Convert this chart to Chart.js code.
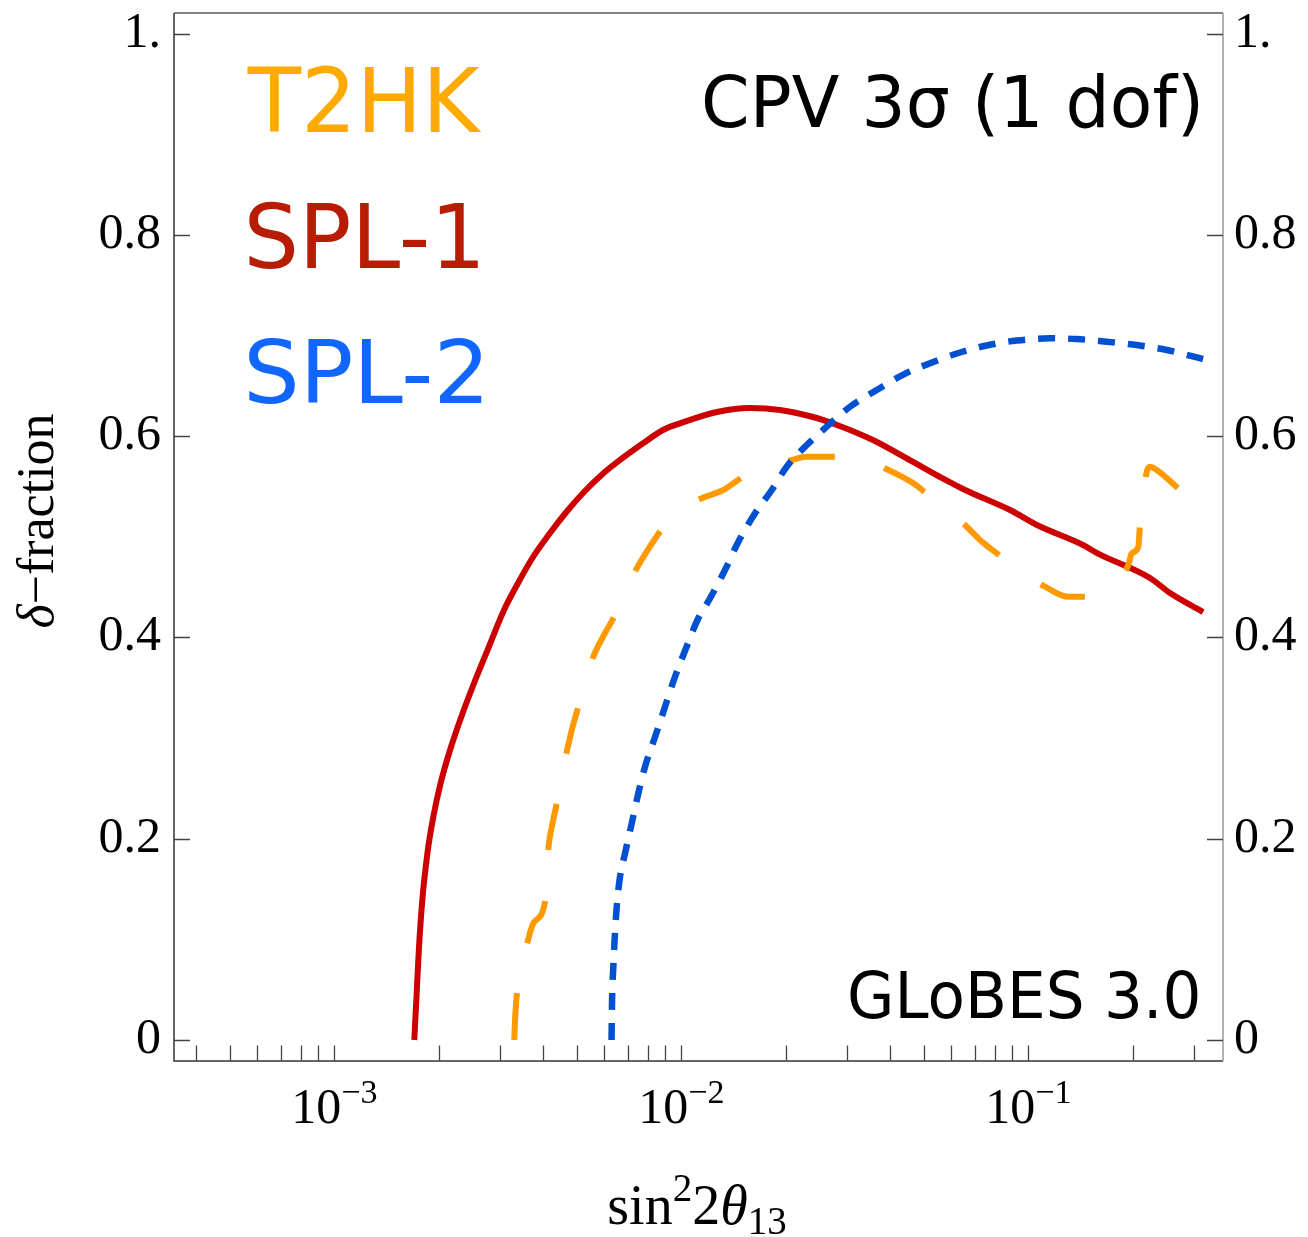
<!DOCTYPE html>
<html>
<head>
<meta charset="utf-8">
<script src="https://cdn.jsdelivr.net/npm/chart.js@4.4.1/dist/chart.umd.min.js"></script>
<style>
html,body{margin:0;padding:0;background:#fff;}
canvas{display:block;}
</style>
</head>
<body>
<canvas id="c" width="1308" height="1237" style="width:1308px;height:1237px"></canvas>
<script>
// ---- data (sin^2 2theta13 , delta-fraction) ----
const spl1X = [1.700e-3, 1.723e-3, 1.752e-3, 1.793e-3, 1.860e-3, 1.929e-3, 2.024e-3, 2.155e-3, 2.323e-3, 2.527e-3,
  2.764e-3, 3.083e-3, 3.361e-3, 3.738e-3, 4.142e-3, 4.638e-3, 5.208e-3, 5.888e-3, 6.657e-3, 7.756e-3,
  8.857e-3, 9.915e-3, 1.267e-2, 1.578e-2, 1.925e-2, 2.396e-2, 2.810e-2, 3.567e-2, 4.653e-2, 5.566e-2,
  6.571e-2, 8.858e-2, 0.1059, 0.1438, 0.1578, 0.2242, 0.2561, 0.3188];
const spl1Y = [0, 0.0397, 0.0894, 0.1391, 0.1888, 0.2219, 0.2551, 0.2882, 0.3213, 0.3545,
  0.3875, 0.4273, 0.4522, 0.4800, 0.5018, 0.5237, 0.5436, 0.5615, 0.5764, 0.5930,
  0.6062, 0.6128, 0.6241, 0.6280, 0.6261, 0.6191, 0.6112, 0.5962, 0.5744, 0.5595,
  0.5466, 0.5267, 0.5118, 0.4919, 0.4839, 0.4591, 0.4442, 0.4253];

const t2hkX = [3.30e-3, 3.317e-3, 3.355e-3, 3.451e-3, 3.585e-3, 3.745e-3, 4.048e-3, 4.102e-3, 4.137e-3, 4.240e-3,
  4.375e-3, 4.502e-3, 4.675e-3, 4.842e-3, 5.049e-3, 5.313e-3, 5.577e-3, 5.988e-3, 6.443e-3, 6.929e-3,
  7.439e-3, 8.071e-3, 8.781e-3, 9.915e-3, 1.145e-2, 1.321e-2, 1.509e-2, 1.778e-2, 2.081e-2, 2.298e-2,
  2.834e-2, 3.338e-2, 3.950e-2, 4.663e-2, 5.150e-2, 5.870e-2, 6.646e-2, 7.259e-2, 8.472e-2, 9.784e-2,
  0.1117, 0.1304, 0.1523, 0.1743, 0.1942, 0.1986, 0.2075, 0.2099, 0.2141, 0.2194,
  0.2242, 0.2344, 0.2736];
const t2hkY = [0, 0.0199, 0.0447, 0.0715, 0.0944, 0.1160, 0.1374, 0.1640, 0.1888, 0.2127,
  0.2352, 0.2604, 0.2865, 0.3091, 0.3312, 0.3577, 0.3809, 0.4025, 0.4223, 0.4472,
  0.4687, 0.4889, 0.5075, 0.5267, 0.5383, 0.5466, 0.5598, 0.5694, 0.5764, 0.5797,
  0.5797, 0.5764, 0.5664, 0.5532, 0.5416, 0.5267, 0.5101, 0.4969, 0.4787, 0.4621,
  0.4505, 0.4405, 0.4405, 0.4522, 0.4720, 0.4837, 0.4902, 0.5135, 0.5416, 0.5647,
  0.5697, 0.5664, 0.5466];

const spl2X = [6.293e-3, 6.315e-3, 6.368e-3, 6.433e-3, 6.514e-3, 6.657e-3, 6.883e-3, 7.195e-3, 7.517e-3, 7.860e-3,
  8.402e-3, 8.974e-3, 9.590e-3, 1.032e-2, 1.119e-2, 1.210e-2, 1.336e-2, 1.460e-2, 1.631e-2, 1.822e-2,
  2.012e-2, 2.298e-2, 2.624e-2, 3.063e-2, 3.656e-2, 4.363e-2, 5.324e-2, 6.357e-2, 7.587e-2, 9.261e-2,
  0.1155, 0.1379, 0.1683, 0.2053, 0.2505, 0.3188];
const spl2Y = [0, 0.0397, 0.0728, 0.1043, 0.1325, 0.1623, 0.1855, 0.2153, 0.2452, 0.2716,
  0.3014, 0.3312, 0.3610, 0.3895, 0.4191, 0.4390, 0.4671, 0.4952, 0.5234, 0.5466,
  0.5697, 0.5913, 0.6095, 0.6293, 0.6459, 0.6613, 0.6738, 0.6832, 0.6902, 0.6951,
  0.6973, 0.6966, 0.6939, 0.6906, 0.6857, 0.6767];

// ---- axes ----
const xRange = [3.451e-4, 0.3639];
const yRange = [-0.02087, 1.0206];
const xTickValues = [4e-4, 5e-4, 6e-4, 7e-4, 8e-4, 9e-4, 1e-3, 2e-3, 3e-3, 4e-3, 5e-3, 6e-3, 7e-3, 8e-3, 9e-3,
  1e-2, 2e-2, 3e-2, 4e-2, 5e-2, 6e-2, 7e-2, 8e-2, 9e-2, 1e-1, 2e-1, 3e-1];
const xLabelValues = [1e-3, 1e-2, 1e-1];
const xLabelExps = ['\u22123', '\u22122', '\u22121'];
const yTickValues = [0, 0.2, 0.4, 0.6, 0.8, 1.0];
const yTickLabels = ['0', '0.2', '0.4', '0.6', '0.8', '1.'];

const legendNames = ['T2HK', 'SPL-1', 'SPL-2'];

const pts = (xs, ys) => xs.map((v, i) => ({x: v, y: ys[i]}));

const SERIF = '"Liberation Serif", "Times New Roman", serif';
const SANS = '"DejaVu Sans", sans-serif';

function drawFit(ctx, text, family, color, left, right, capTop, baseline) {
  ctx.save();
  ctx.font = '100px ' + family;
  const ratio = ctx.measureText('H').actualBoundingBoxAscent / 100;
  const fs = (baseline - capTop) / ratio;
  ctx.font = fs + 'px ' + family;
  const m = ctx.measureText(text);
  const ink = m.actualBoundingBoxLeft + m.actualBoundingBoxRight;
  const sx = (right - left) / ink;
  ctx.translate(left, baseline);
  ctx.scale(sx, 1);
  ctx.textAlign = 'left';
  ctx.textBaseline = 'alphabetic';
  ctx.fillStyle = color;
  ctx.fillText(text, m.actualBoundingBoxLeft, 0);
  ctx.restore();
}

function drawRuns(ctx, runs, cx, baseline) {
  let total = 0;
  runs.forEach(r => { ctx.font = r[1]; r.w = ctx.measureText(r[0]).width; total += r.w; });
  let xx = cx - total / 2;
  ctx.textAlign = 'left';
  ctx.textBaseline = 'alphabetic';
  runs.forEach(r => { ctx.font = r[1]; ctx.fillText(r[0], xx, baseline + r[2]); xx += r.w; });
}

const fixRange = (lo, hi) => (s) => { s.min = lo; s.max = hi; };

const decor = {
  id: 'decor',
  afterDatasetsDraw(chart) {
    const {ctx, chartArea: a, scales: {x, y}} = chart;
    ctx.save();
    // frame
    ctx.lineWidth = 1.5;
    ctx.strokeStyle = '#333';
    ctx.beginPath(); ctx.moveTo(a.left, a.top); ctx.lineTo(a.left, a.bottom); ctx.lineTo(a.right, a.bottom); ctx.stroke();
    ctx.strokeStyle = '#555';
    ctx.beginPath(); ctx.moveTo(a.left, a.top); ctx.lineTo(a.right, a.top); ctx.stroke();
    ctx.strokeStyle = '#999';
    ctx.beginPath(); ctx.moveTo(a.right, a.top); ctx.lineTo(a.right, a.bottom); ctx.stroke();

    // ticks
    ctx.strokeStyle = '#444';
    ctx.lineWidth = 1.3;
    ctx.beginPath();
    xTickValues.forEach(v => {
      const px = Math.round(x.getPixelForValue(v)) + 0.5;
      ctx.moveTo(px, a.bottom); ctx.lineTo(px, a.bottom - 15.5);
    });
    yTickValues.forEach(v => {
      const py = Math.round(y.getPixelForValue(v)) + 0.5;
      ctx.moveTo(a.left, py); ctx.lineTo(a.left + 16, py);
      ctx.moveTo(a.right - 16, py); ctx.lineTo(a.right, py);
    });
    ctx.stroke();

    // y tick labels
    ctx.fillStyle = '#000';
    ctx.font = '50px ' + SERIF;
    ctx.textBaseline = 'alphabetic';
    yTickValues.forEach((v, i) => {
      const py = y.getPixelForValue(v) + 13;
      ctx.textAlign = 'right';
      ctx.fillText(yTickLabels[i], a.left - 13, py);
      ctx.textAlign = 'left';
      ctx.fillText(yTickLabels[i], a.right + 11, py);
    });

    // x tick labels 10^k
    xLabelValues.forEach((v, i) => {
      const px = x.getPixelForValue(v);
      drawRuns(ctx, [['10', '50px ' + SERIF, 0], [xLabelExps[i], '34px ' + SERIF, -20]], px, 1123);
    });

    // x title
    drawRuns(ctx, [
      ['sin', '56px ' + SERIF, 0],
      ['2', '39px ' + SERIF, -23],
      ['2', '56px ' + SERIF, 0],
      ['\u03B8', 'italic 56px ' + SERIF, 0],
      ['13', '39px ' + SERIF, 10]
    ], 697, 1224);

    // y title
    ctx.save();
    ctx.translate(53, 521);
    ctx.rotate(-Math.PI / 2);
    drawRuns(ctx, [
      ['\u03B4', 'italic 52px ' + SERIF, 0],
      ['\u2212fraction', '52px ' + SERIF, 0]
    ], 0, 0);
    ctx.restore();

    // legend texts
    drawFit(ctx, legendNames[0], SANS, '#FFAA00', 246.7, 482, 66.7, 131.7);
    drawFit(ctx, legendNames[1], SANS, '#B81C05', 248.3, 478.3, 203.3, 268.3);
    drawFit(ctx, legendNames[2], SANS, '#1166FF', 248.3, 481.7, 340, 403.3);

    // annotations
    drawFit(ctx, 'CPV 3\u03C3 (1 dof)', SANS, '#000', 705, 1198.3, 75, 127.3);
    drawFit(ctx, 'GLoBES 3.0', SANS, '#000', 850, 1198, 971, 1017.5);

    ctx.restore();
  }
};

const common = {pointRadius: 0, pointHoverRadius: 0, fill: false, cubicInterpolationMode: 'monotone', borderJoinStyle: 'round'};

new Chart(document.getElementById('c'), {
  type: 'line',
  data: {
    datasets: [
      Object.assign({label: legendNames[2], data: pts(spl2X, spl2Y), borderColor: '#0050D2', borderWidth: 6.5, borderDash: [17, 13]}, common),
      Object.assign({label: legendNames[0], data: pts(t2hkX, t2hkY), borderColor: '#FF9900', borderWidth: 6, borderDash: [47, 51]}, common),
      Object.assign({label: legendNames[1], data: pts(spl1X, spl1Y), borderColor: '#CC0000', borderWidth: 6}, common)
    ]
  },
  options: {
    responsive: false,
    animation: false,
    events: [],
    layout: {padding: {left: 174, top: 13, right: 85, bottom: 176}},
    plugins: {legend: {display: false}, tooltip: {enabled: false}},
    scales: {
      x: {type: 'logarithmic', min: xRange[0], max: xRange[1], bounds: 'data', display: false,
          afterBuildTicks: fixRange(xRange[0], xRange[1])},
      y: {type: 'linear', min: yRange[0], max: yRange[1], bounds: 'data', display: false,
          afterBuildTicks: fixRange(yRange[0], yRange[1])}
    }
  },
  plugins: [decor]
});
</script>
</body>
</html>
